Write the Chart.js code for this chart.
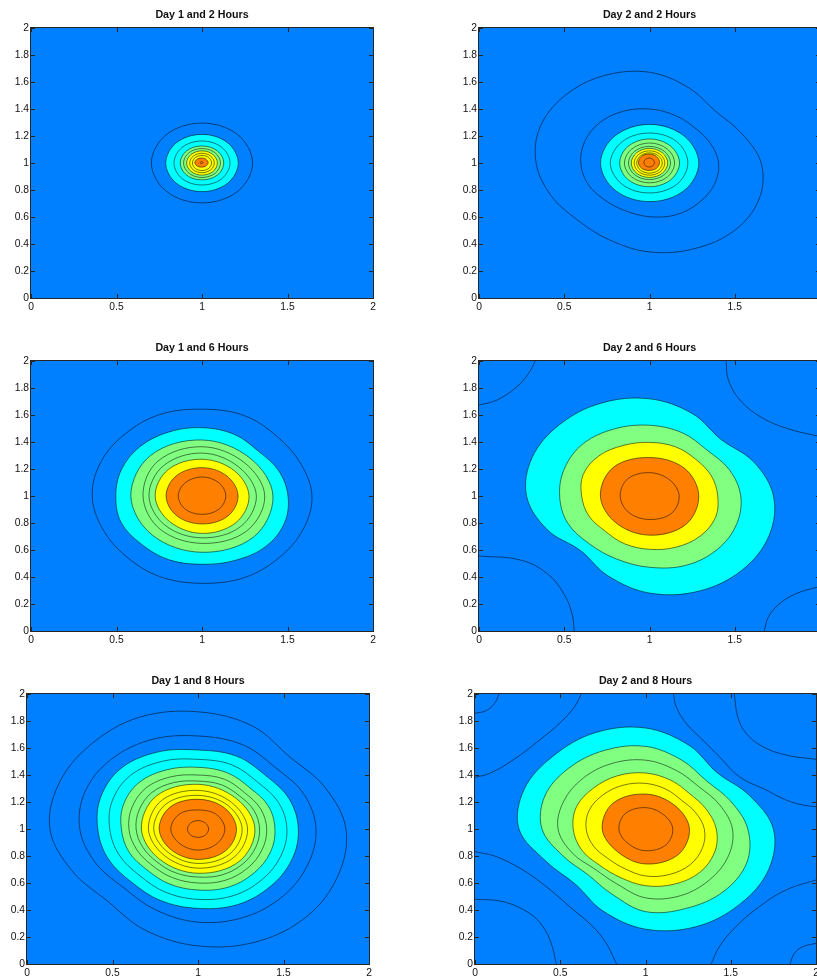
<!DOCTYPE html>
<html>
<head>
<meta charset="utf-8">
<script src="https://cdn.jsdelivr.net/npm/chart.js@4.4.1/dist/chart.umd.min.js"></script>
<style>
  html, body { margin: 0; padding: 0; background: #fff; overflow: hidden; width: 817px; height: 980px; }
  canvas { position: absolute; }
</style>
</head>
<body>
<script>
// ---------------- data ----------------
const panelTitles = [
  'Day 1 and 2 Hours', 'Day 2 and 2 Hours',
  'Day 1 and 6 Hours', 'Day 2 and 6 Hours',
  'Day 1 and 8 Hours', 'Day 2 and 8 Hours'
];
const xTickLabels = ['0', '0.5', '1', '1.5', '2'];
const yTickLabels = ['0', '0.2', '0.4', '0.6', '0.8', '1', '1.2', '1.4', '1.6', '1.8', '2'];

// Closed contour rings, outermost first: [centreX, centreY, r0, r1, ...]
// with radii taken at equal angle steps, counter-clockwise from east.
// Band letters give the fill colour inside each ring.
const d1h2Rings = [
  [1, 1, .296, .296, .296, .296, .296, .296, .296, .296],
  [1, 1, .212, .212, .212, .212, .212, .212, .212, .212],
  [1, 1, .164, .164, .163, .164, .164, .164, .163, .164],
  [1, 1, .127, .127, .126, .127, .127, .127, .125, .127],
  [1, 1, .108, .108, .107, .108, .108, .108, .107, .108],
  [1, 1, .090, .090, .090, .090, .090, .090, .090, .090],
  [1, 1, .072, .072, .072, .072, .072, .072, .072, .072],
  [1, 1, .056, .056, .056, .056, .056, .056, .056, .056],
  [.997, 1.003, .039, .036, .034, .036, .039, .036, .034, .036],
  [.997, 1.003, .008, .008, .008, .008, .008, .008, .008, .008]
];
const d1h2Bands = ['B','C','C','G','G','Y','Y','Y','O','O'];
const d1h2Open = [];

const d2h2Rings = [
  [1, 1, .655, .582, .545, .603, .672, .700, .704, .695, .665, .626, .597, .616, .659, .687, .706, .696],
  [1, 1, .405, .385, .372, .384, .400, .413, .418, .412, .403, .394, .380, .381, .398, .414, .413, .412],
  [1, 1, .289, .285, .286, .285, .287, .285, .286, .288],
  [1, 1, .225, .225, .222, .225, .230, .225, .222, .225],
  [1, 1, .176, .176, .178, .176, .175, .176, .176, .176],
  [1, 1, .147, .147, .148, .147, .147, .147, .147, .147],
  [1, 1, .123, .123, .123, .123, .123, .123, .123, .123],
  [1, 1, .107, .107, .108, .107, .107, .107, .107, .107],
  [1, 1, .090, .090, .090, .090, .090, .090, .090, .090],
  [1, 1, .075, .075, .075, .075, .075, .075, .075, .075],
  [.997, 1.005, .062, .062, .061, .062, .062, .062, .060, .062],
  [.998, 1.003, .031, .032, .034, .032, .031, .032, .033, .032]
];
const d2h2Bands = ['B','B','C','C','G','G','G','Y','Y','Y','O','O'];
const d2h2Open = [];

const d1h6Rings = [
  [1, 1, .643, .625, .622, .645, .643, .652, .643, .643, .642, .630, .630, .646, .647, .653, .642, .641],
  [1, 1, .503, .486, .468, .494, .506, .512, .515, .510, .504, .512, .503, .510, .506, .515, .528, .522],
  [1, 1, .415, .397, .415, .425, .416, .410, .417, .428],
  [1, 1, .367, .350, .365, .365, .345, .347, .351, .368],
  [1, 1, .318, .304, .318, .318, .310, .306, .310, .320],
  [1, 1, .275, .266, .272, .278, .274, .268, .277, .280],
  [1, 1, .211, .208, .210, .212, .210, .208, .207, .212],
  [1, 1, .139, .139, .141, .139, .139, .138, .136, .139]
];
const d1h6Bands = ['B','C','G','G','G','Y','O','O'];
const d1h6Open = [];

const d2h6Rings = [
  [1, 1, .727, .661, .593, .660, .720, .744, .747, .745, .721, .650, .572, .639, .719, .762, .772, .760],
  [1, 1, .535, .507, .479, .506, .524, .538, .549, .539, .527, .520, .500, .505, .528, .556, .561, .552],
  [1, 1, .400, .392, .384, .395, .397, .405, .420, .420, .398, .385, .368, .383, .395, .410, .420, .418],
  [1, 1, .289, .290, .285, .300, .288, .280, .290, .300],
  [1, 1, .174, .168, .173, .180, .172, .172, .174, .182]
];
const d2h6Bands = ['C','G','Y','O','O'];
// Contours that run out through the frame: flat [x0,y0, x1,y1, ...] lists.
const d2h6Open = [
  [0.000,1.674, 0.106,1.711, 0.223,1.810, 0.291,1.909, 0.330,2.000],
  [1.449,2.000, 1.463,1.859, 1.531,1.711, 1.649,1.588, 1.805,1.501, 2.000,1.440],
  [0.000,0.556, 0.242,0.526, 0.398,0.427, 0.496,0.279, 0.545,0.131, 0.559,0.000],
  [1.673,0.000, 1.698,0.106, 1.766,0.205, 1.864,0.279, 2.000,0.330]
];

const d1h8Rings = [
  [1, 1, .865, .804, .757, .827, .868, .896, .886, .880, .866, .800, .752, .810, .866, .903, .908, .888],
  [1, 1, .690, .671, .642, .677, .689, .716, .724, .716, .691, .650, .615, .648, .690, .707, .703, .694],
  [1, 1, .587, .578, .560, .585, .585, .617, .636, .616, .586, .570, .553, .573, .588, .606, .600, .594],
  [1, 1, .520, .510, .492, .515, .516, .543, .560, .543, .516, .500, .485, .505, .521, .535, .530, .524],
  [1, 1, .450, .445, .430, .450, .457, .475, .487, .472, .448, .438, .425, .440, .452, .466, .462, .457],
  [1, 1, .402, .395, .383, .400, .400, .418, .430, .418, .404, .390, .380, .390, .400, .412, .410, .405],
  [1, 1, .360, .355, .345, .355, .355, .372, .382, .372, .362, .350, .342, .350, .356, .368, .368, .364],
  [1, 1, .333, .318, .331, .345, .331, .317, .328, .340],
  [1, 1, .290, .278, .286, .300, .290, .278, .290, .297],
  [1, 1, .258, .247, .249, .263, .259, .246, .255, .262],
  [1, 1, .225, .220, .220, .230, .227, .220, .225, .228],
  [1, 1, .157, .152, .141, .155, .159, .152, .156, .155],
  [1, 1, .062, .062, .062, .062, .062, .062, .062, .062]
];
const d1h8Bands = ['B','B','C','C','G','G','G','Y','Y','Y','O','O','O'];
const d1h8Open = [];

const d2h8Rings = [
  [1, 1, .750, .657, .592, .670, .748, .772, .765, .770, .742, .630, .580, .656, .742, .782, .785, .782],
  [1, 1, .600, .540, .505, .553, .612, .630, .637, .639, .607, .523, .478, .520, .612, .635, .651, .644],
  [1, 1, .510, .470, .443, .470, .510, .524, .525, .522, .513, .465, .420, .440, .510, .535, .532, .526],
  [1, 1, .415, .385, .368, .390, .415, .427, .430, .437, .424, .405, .380, .388, .420, .442, .452, .440],
  [1, 1, .345, .318, .300, .318, .338, .350, .355, .358, .348, .330, .310, .318, .348, .365, .372, .362],
  [1, 1, .258, .245, .259, .270, .254, .235, .259, .270],
  [1, 1, .160, .150, .158, .165, .156, .148, .161, .168]
];
const d2h8Bands = ['C','G','G','Y','Y','O','O'];
const d2h8Open = [
  [0.000,1.857, 0.066,1.877, 0.115,1.931, 0.141,2.000],
  [0.000,1.383, 0.086,1.412, 0.223,1.511, 0.379,1.659, 0.496,1.783, 0.584,1.906, 0.623,2.000],
  [1.164,2.000, 1.180,1.906, 1.238,1.783, 1.336,1.659, 1.433,1.536, 1.550,1.388, 1.707,1.289, 1.824,1.215,
   1.922,1.178, 2.000,1.165],
  [1.521,2.000, 1.541,1.832, 1.590,1.709, 1.688,1.610, 1.824,1.548, 2.000,1.516],
  [0.000,0.832, 0.125,0.795, 0.281,0.696, 0.418,0.573, 0.555,0.425, 0.691,0.277, 0.770,0.153, 0.810,0.054,
   0.830,0.000],
  [0.000,0.479, 0.164,0.462, 0.320,0.375, 0.398,0.277, 0.447,0.153, 0.477,0.000],
  [1.385,0.000, 1.433,0.128, 1.531,0.277, 1.668,0.425, 1.824,0.548, 2.000,0.622],
  [1.848,0.000, 1.873,0.079, 1.922,0.128, 2.000,0.153]
];

// ---------------- styling / layout ----------------
const bandColors = { B: '#0080ff', C: '#00ffff', G: '#80ff80', Y: '#ffff00', O: '#ff8000' };
const contourLine = 'rgba(0,0,0,0.62)';
const fontFamily = '"Liberation Sans", Arial, Helvetica, sans-serif';

const panels = [
  { rings: d1h2Rings, bands: d1h2Bands, open: d1h2Open, box: { left: 31,  top: 28,  w: 342, h: 270 } },
  { rings: d2h2Rings, bands: d2h2Bands, open: d2h2Open, box: { left: 479, top: 28,  w: 341, h: 270 } },
  { rings: d1h6Rings, bands: d1h6Bands, open: d1h6Open, box: { left: 31,  top: 361, w: 342, h: 270 } },
  { rings: d2h6Rings, bands: d2h6Bands, open: d2h6Open, box: { left: 479, top: 361, w: 341, h: 270 } },
  { rings: d1h8Rings, bands: d1h8Bands, open: d1h8Open, box: { left: 27,  top: 694, w: 342, h: 270 } },
  { rings: d2h8Rings, bands: d2h8Bands, open: d2h8Open, box: { left: 475, top: 694, w: 341, h: 270 } }
];

const Y_AXIS_W = 40, TOP_PAD = 28, RIGHT_PAD = 20, X_AXIS_H = 24;

// Ring vertices in data units from its centre and per-direction radii.
function ringPoints(ring) {
  const cx = ring[0], cy = ring[1], radii = ring.slice(2), n = radii.length;
  return radii.map((r, k) => {
    const a = 2 * Math.PI * k / n;
    return { x: cx + r * Math.cos(a), y: cy + r * Math.sin(a) };
  });
}

function linePoints(flat) {
  const out = [];
  for (let i = 0; i < flat.length; i += 2) out.push({ x: flat[i], y: flat[i + 1] });
  return out;
}

function buildDatasets(rings, bands, open) {
  const sets = [];
  rings.forEach((ring, i) => {
    sets.push({
      data: ringPoints(ring),
      closedRing: true,
      showLine: true,
      fill: 'shape',
      backgroundColor: bandColors[bands[i]],
      borderColor: contourLine,
      borderWidth: 0.85,
      tension: 0.36,
      pointRadius: 0,
      pointHoverRadius: 0,
      order: rings.length - i + 1
    });
  });
  open.forEach(line => {
    sets.push({
      data: linePoints(line),
      showLine: true,
      fill: false,
      borderColor: contourLine,
      borderWidth: 0.85,
      tension: 0.4,
      pointRadius: 0,
      pointHoverRadius: 0,
      order: 0
    });
  });
  return sets;
}

// Turns each ring dataset into a closed, smoothly joined loop.
const closedRings = {
  id: 'closedRings',
  afterDatasetsUpdate(chart) {
    chart.data.datasets.forEach((ds, i) => {
      if (!ds.closedRing) return;
      const line = chart.getDatasetMeta(i).dataset;
      if (!line) return;
      line._loop = true;
      line._fullLoop = true;
      delete line._segments;
      line._path = undefined;
      line._pointsUpdated = false;
    });
  }
};

// Plot background, boxed frame with inward ticks on all sides, and the panel title.
const axesBox = {
  id: 'axesBox',
  beforeDatasetsDraw(chart) {
    const a = chart.chartArea, ctx = chart.ctx;
    ctx.save();
    ctx.fillStyle = bandColors.B;
    ctx.fillRect(a.left, a.top, a.right - a.left, a.bottom - a.top);
    ctx.restore();
  },
  afterDraw(chart, args, opts) {
    const a = chart.chartArea, ctx = chart.ctx;
    const xs = chart.scales.x, ys = chart.scales.y;
    ctx.save();
    ctx.strokeStyle = '#262626';
    ctx.lineWidth = 1;
    ctx.strokeRect(a.left - 0.5, a.top - 0.5, a.right - a.left + 1, a.bottom - a.top + 1);
    const tl = 4;
    ctx.beginPath();
    xs.ticks.forEach(t => {
      const px = Math.round(xs.getPixelForValue(t.value)) + 0.5;
      ctx.moveTo(px, a.bottom); ctx.lineTo(px, a.bottom - tl);
      ctx.moveTo(px, a.top); ctx.lineTo(px, a.top + tl);
    });
    ys.ticks.forEach(t => {
      const py = Math.round(ys.getPixelForValue(t.value)) + 0.5;
      ctx.moveTo(a.left, py); ctx.lineTo(a.left + tl, py);
      ctx.moveTo(a.right, py); ctx.lineTo(a.right - tl, py);
    });
    ctx.stroke();
    ctx.fillStyle = '#111';
    ctx.font = 'bold 10.7px ' + fontFamily;
    ctx.textAlign = 'center';
    ctx.textBaseline = 'middle';
    ctx.fillText(opts.title, (a.left + a.right) / 2, a.top - 13);
    ctx.restore();
  }
};

panels.forEach((p, idx) => {
  const b = p.box;
  const canvas = document.createElement('canvas');
  const cw = Y_AXIS_W + b.w + RIGHT_PAD;
  const chh = TOP_PAD + b.h + X_AXIS_H;
  canvas.width = cw;
  canvas.height = chh;
  canvas.style.width = cw + 'px';
  canvas.style.height = chh + 'px';
  canvas.style.left = (b.left - Y_AXIS_W) + 'px';
  canvas.style.top = (b.top - TOP_PAD) + 'px';
  document.body.appendChild(canvas);

  new Chart(canvas, {
    type: 'scatter',
    data: { datasets: buildDatasets(p.rings, p.bands, p.open) },
    options: {
      responsive: false,
      devicePixelRatio: 1,
      animation: false,
      events: [],
      layout: { padding: { left: 0, top: TOP_PAD, right: RIGHT_PAD, bottom: 0 } },
      plugins: {
        legend: { display: false },
        tooltip: { enabled: false },
        title: { display: false },
        axesBox: { title: panelTitles[idx] }
      },
      scales: {
        x: {
          type: 'linear', min: 0, max: 2,
          grid: { display: false, drawTicks: false },
          border: { display: false },
          afterFit(s) { s.height = X_AXIS_H; },
          ticks: {
            stepSize: 0.5, padding: 3, maxRotation: 0, autoSkip: false,
            color: '#111', font: { family: fontFamily, size: 10.3 },
            callback: (v, i) => xTickLabels[i]
          }
        },
        y: {
          type: 'linear', min: 0, max: 2,
          grid: { display: false, drawTicks: false },
          border: { display: false },
          afterFit(s) { s.width = Y_AXIS_W; },
          ticks: {
            stepSize: 0.2, padding: 2, autoSkip: false,
            color: '#111', font: { family: fontFamily, size: 10.3 },
            callback: (v, i) => yTickLabels[i]
          }
        }
      }
    },
    plugins: [closedRings, axesBox]
  });
});
</script>
</body>
</html>
